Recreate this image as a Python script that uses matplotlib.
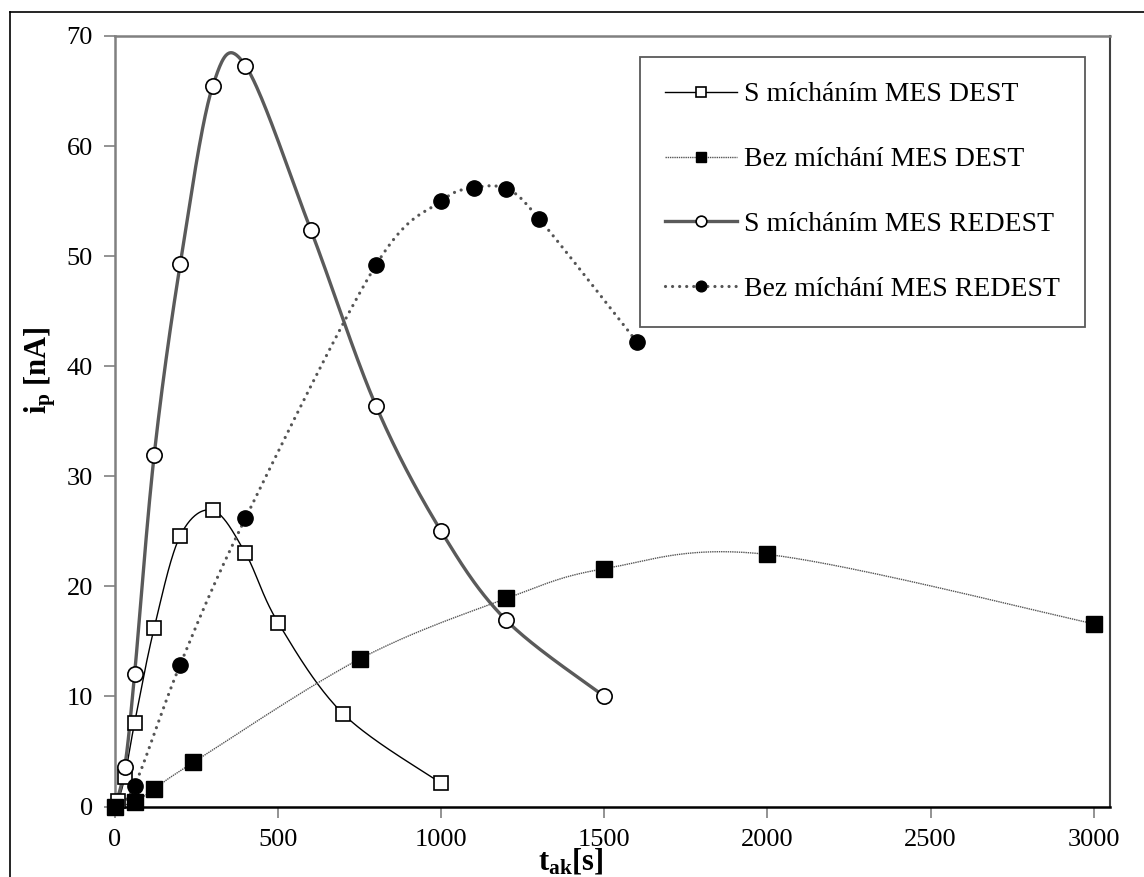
import numpy as np
import matplotlib
matplotlib.use("Agg")
import matplotlib.pyplot as plt
from matplotlib.lines import Line2D

plt.rcParams['font.family'] = ['Liberation Serif', 'DejaVu Serif']
plt.rcParams['mathtext.fontset'] = 'custom'
plt.rcParams['mathtext.rm'] = 'Liberation Serif'
plt.rcParams['mathtext.it'] = 'Liberation Serif:italic'
plt.rcParams['mathtext.bf'] = 'Liberation Serif:bold'

# ---- data ----
x_s_dest = [10, 30, 60, 120, 200, 300, 400, 500, 700, 1000]
y_s_dest = [0.5, 2.7, 7.6, 16.2, 24.6, 26.9, 23.0, 16.7, 8.4, 2.1]

x_b_dest = [0, 60, 120, 240, 750, 1200, 1500, 2000, 3000]
y_b_dest = [0.0, 0.4, 1.6, 4.0, 13.4, 18.9, 21.6, 22.9, 16.6]

x_s_redest = [0, 30, 60, 120, 200, 300, 400, 600, 800, 1000, 1200, 1500]
y_s_redest = [0.0, 3.6, 12.0, 31.9, 49.3, 65.5, 67.3, 52.4, 36.4, 25.0, 16.9, 10.0]

x_b_redest = [0, 60, 200, 400, 800, 1000, 1100, 1200, 1300, 1600]
y_b_redest = [0.0, 1.9, 12.9, 26.2, 49.2, 55.0, 56.2, 56.1, 53.4, 42.2]

labels = ['S mícháním MES DEST', 'Bez míchání MES DEST',
          'S mícháním MES REDEST', 'Bez míchání MES REDEST']
x_ticks = [0, 500, 1000, 1500, 2000, 2500, 3000]
y_ticks = [0, 10, 20, 30, 40, 50, 60, 70]


def smooth(xs, ys, n=40, k=6.0):
    """Excel-like smoothed line (Catmull-Rom Bezier)."""
    P = np.column_stack([xs, ys]).astype(float)
    m = len(P)
    out = [P[0]]
    t = np.linspace(0, 1, n)[1:]
    for i in range(m - 1):
        p0 = P[i - 1] if i > 0 else P[i]
        p1 = P[i]
        p2 = P[i + 1]
        p3 = P[i + 2] if i + 2 < m else P[i + 1]
        c1 = p1 + (p2 - p0) / k
        c2 = p2 - (p3 - p1) / k
        tt = t[:, None]
        seg = ((1 - tt) ** 3) * p1 + 3 * ((1 - tt) ** 2) * tt * c1 + \
            3 * (1 - tt) * tt ** 2 * c2 + tt ** 3 * p2
        out.extend(seg)
    out = np.array(out)
    return out[:, 0], out[:, 1]


W, H = 1144, 877
fig = plt.figure(figsize=(W / 100, H / 100), dpi=100)
ax = fig.add_axes([115 / W, 1 - 806.5 / H, (1110 - 115) / W, (806.5 - 36) / H])

series = [
    (x_s_dest, y_s_dest, dict(color='black', lw=1.0, ls='-'),
     dict(marker='s', ms=10, mfc='white', mec='black', mew=1.2)),
    (x_b_dest, y_b_dest, dict(color='#555555', lw=1.0, ls=(0, (1, 0.6))),
     dict(marker='s', ms=11, mfc='black', mec='black', mew=1.0)),
    (x_s_redest, y_s_redest, dict(color='#5a5a5a', lw=2.4, ls='-'),
     dict(marker='o', ms=11, mfc='white', mec='black', mew=1.2)),
    (x_b_redest, y_b_redest, dict(color='#555555', lw=2.3, ls=(0, (0.01, 2.2)),
                                  dash_capstyle='round'),
     dict(marker='o', ms=11, mfc='black', mec='black', mew=1.0)),
]

handles = []
for i, (xs, ys, lst, mst) in enumerate(series):
    sx, sy = smooth(xs, ys)
    ax.plot(sx, sy, zorder=2 + i, solid_capstyle='butt', **lst)
    ax.plot(xs, ys, ls='none', zorder=10 + i, clip_on=False, **mst)
    h = Line2D([], [], **lst, **{**mst, 'ms': mst['ms'] * 0.7})
    handles.append(h)

ax.set_xlim(0, 3050)
ax.set_ylim(0, 70)
ax.set_xticks(x_ticks)
ax.set_yticks(y_ticks)
ax.tick_params(axis='both', labelsize=19, length=8, width=1.2, color='#808080',
               direction='out')
ax.tick_params(axis='y', pad=8)
ax.tick_params(axis='x', pad=8)

ax.spines['left'].set_color('#808080')
ax.spines['left'].set_linewidth(1.8)
ax.spines['top'].set_color('#808080')
ax.spines['top'].set_linewidth(1.8)
ax.spines['right'].set_color('#404040')
ax.spines['right'].set_linewidth(1.5)
ax.spines['bottom'].set_color('black')
ax.spines['bottom'].set_linewidth(1.8)

fig.text(40 / W, 1 - 370 / H, r'$\mathbf{i_p\ [nA]}$', rotation=90,
         fontsize=22, ha='center', va='center')
fig.text(571 / W, 1 - 862 / H, r'$\mathbf{t_{ak}[s]}$', fontsize=22,
         ha='center', va='center')

leg = ax.legend(handles, labels, loc='upper left',
                bbox_to_anchor=((640 - 115) / (1110 - 115), (806.5 - 57) / (806.5 - 36)),
                fontsize=20, frameon=True, fancybox=False, edgecolor='#303030',
                handlelength=2.6, handletextpad=0.25, labelspacing=1.42,
                borderpad=0.9, borderaxespad=0.0)
leg.get_frame().set_linewidth(1.3)

# outer frame
fig.add_artist(Line2D([10 / W, 1.0], [1 - 12 / H, 1 - 12 / H], color='black',
                      lw=1.2, transform=fig.transFigure))
fig.add_artist(Line2D([10 / W, 10 / W], [1 - 12 / H, 0.0], color='black',
                      lw=1.2, transform=fig.transFigure))

fig.savefig('out.png', dpi=100)
